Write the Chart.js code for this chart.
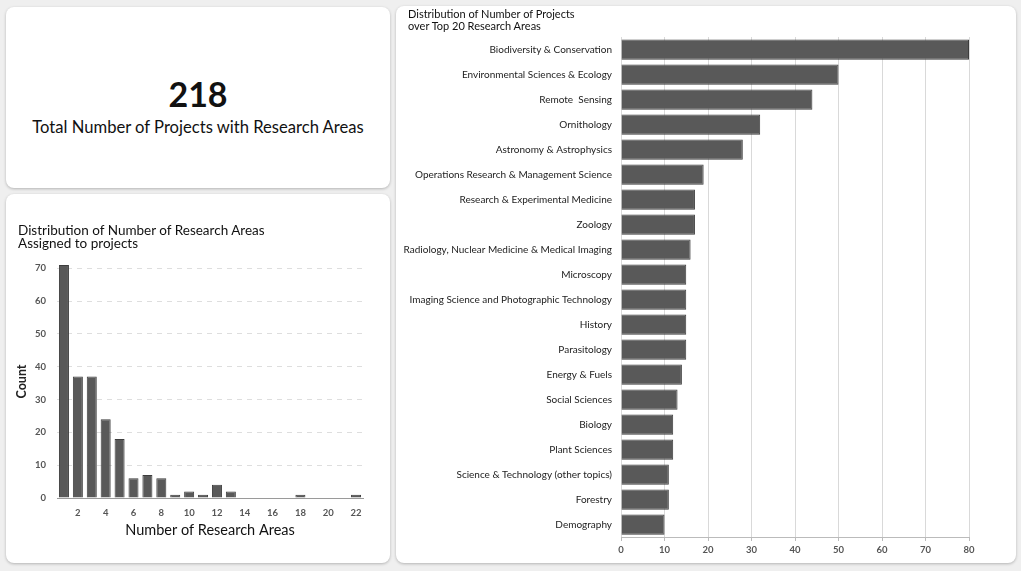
<!DOCTYPE html>
<html>
<head>
<meta charset="utf-8">
<script src="https://cdn.jsdelivr.net/npm/chart.js@4.4.0/dist/chart.umd.min.js"></script>
<style>
  html, body { margin: 0; padding: 0; background: #efefef; font-family: Lato, "Open Sans", sans-serif; }
  body { width: 1021px; height: 571px; position: relative; overflow: hidden; }
  .card { position: absolute; background: #fff; border-radius: 8px; box-shadow: 0 1px 3px rgba(0,0,0,0.25); }
  .title { position: absolute; color: #111; }
  canvas { position: absolute; left: 0; top: 0; }
</style>
</head>
<body>
<div class="card" id="kpi" style="left:6px;top:7px;width:384px;height:181px;">
  <div style="position:absolute;left:0;width:100%;top:66px;text-align:center;font-size:34px;font-weight:bold;color:#111;">218</div>
  <div style="position:absolute;left:0;width:100%;top:110px;text-align:center;font-size:16.6px;color:#111;">Total Number of Projects with Research Areas</div>
</div>
<div class="card" style="left:6px;top:194px;width:384px;height:369px;">
  <canvas id="histChart" width="384" height="369"></canvas>
  <div class="title" style="left:12px;top:30px;font-size:13.5px;line-height:12.5px;">Distribution of Number of Research Areas<br>Assigned to projects</div>
</div>
<div class="card" style="left:396px;top:6px;width:620px;height:557px;">
  <canvas id="areaChart" width="620" height="557"></canvas>
  <div class="title" style="left:12px;top:2px;font-size:11px;line-height:12px;">Distribution of Number of Projects<br>over Top 20 Research Areas</div>
</div>
<script>
// histogram: how many research areas each project has
const numAreas = ['1','2','3','4','5','6','7','8','9','10','11','12','13','14','15','16','17','18','19','20','21','22'];
const projectCounts = [71, 37, 37, 24, 18, 6, 7, 6, 1, 2, 1, 4, 2, 0, 0, 0, 0, 1, 0, 0, 0, 1];
const countTicks = [0, 10, 20, 30, 40, 50, 60, 70];

// top 20 research areas
const areaNames = [
  'Biodiversity & Conservation',
  'Environmental Sciences & Ecology',
  'Remote  Sensing',
  'Ornithology',
  'Astronomy & Astrophysics',
  'Operations Research & Management Science',
  'Research & Experimental Medicine',
  'Zoology',
  'Radiology, Nuclear Medicine & Medical Imaging',
  'Microscopy',
  'Imaging Science and Photographic Technology',
  'History',
  'Parasitology',
  'Energy & Fuels',
  'Social Sciences',
  'Biology',
  'Plant Sciences',
  'Science & Technology (other topics)',
  'Forestry',
  'Demography'
];
const areaCounts = [80, 50, 44, 32, 28, 19, 17, 17, 16, 15, 15, 15, 15, 14, 13, 12, 12, 11, 11, 10];
const areaTicks = [0, 10, 20, 30, 40, 50, 60, 70, 80];

const barFill = '#595959';
const barEdge = '#3d3d3d';
const tickFont = { family: 'Lato, sans-serif', size: 9.5, weight: 'bold' };

new Chart(document.getElementById('histChart'), {
  type: 'bar',
  data: {
    labels: numAreas,
    datasets: [{
      data: projectCounts,
      backgroundColor: barFill,
      borderColor: barEdge,
      borderWidth: 1,
      barPercentage: 0.9,
      categoryPercentage: 0.8
    }]
  },
  options: {
    responsive: false,
    animation: false,
    layout: { padding: { top: 71, right: 27, left: 0, bottom: 0 } },
    plugins: { legend: { display: false }, tooltip: { enabled: false } },
    scales: {
      x: {
        grid: { display: false },
        border: { color: '#9a9a9a' },
        ticks: {
          color: '#555',
          font: tickFont,
          maxRotation: 0,
          autoSkip: false,
          padding: 1,
          callback: (v, i) => (Number(numAreas[i]) % 2 === 0 ? numAreas[i] : '')
        },
        title: {
          display: true,
          text: 'Number of Research Areas',
          color: '#111',
          font: { family: 'Lato, sans-serif', size: 14.5 },
          padding: { top: 0, bottom: 24 }
        },
        afterFit: s => { s.height = 65; }
      },
      y: {
        min: 0,
        max: 71,
        afterBuildTicks: s => { s.ticks = countTicks.map(v => ({ value: v })); },
        grid: {
          color: ctx => (ctx.tick && ctx.tick.value === 0 ? 'rgba(0,0,0,0)' : '#dedede'),
          drawTicks: false
        },
        border: { display: false, dash: [5, 5] },
        ticks: { color: '#555', font: tickFont, padding: 11 },
        title: {
          display: true,
          text: 'Count',
          color: '#222',
          font: { family: 'Lato, sans-serif', size: 12.5, weight: 'bold' },
          padding: { top: 8, bottom: 0 }
        },
        afterFit: s => { s.width = 51; }
      }
    }
  }
});

new Chart(document.getElementById('areaChart'), {
  type: 'bar',
  data: {
    labels: areaNames,
    datasets: [{
      data: areaCounts,
      backgroundColor: barFill,
      borderColor: barEdge,
      borderWidth: 1,
      barPercentage: 0.9,
      categoryPercentage: 0.9
    }]
  },
  options: {
    indexAxis: 'y',
    responsive: false,
    animation: false,
    layout: { padding: { top: 31, right: 47, left: 0, bottom: 0 } },
    plugins: { legend: { display: false }, tooltip: { enabled: false } },
    scales: {
      x: {
        min: 0,
        max: 80,
        afterBuildTicks: s => { s.ticks = areaTicks.map(v => ({ value: v })); },
        grid: { color: '#d9d9d9', tickLength: 4, tickColor: '#bbb' },
        border: { color: '#bbb' },
        ticks: { color: '#555', font: tickFont, padding: 3 },
        afterFit: s => { s.height = 26; }
      },
      y: {
        grid: { display: false, drawTicks: false },
        border: { display: false },
        ticks: {
          color: '#222',
          font: { family: 'Lato, sans-serif', size: 10 },
          padding: 9,
          autoSkip: false
        },
        afterFit: s => { s.width = 225; }
      }
    }
  }
});
</script>
</body>
</html>
